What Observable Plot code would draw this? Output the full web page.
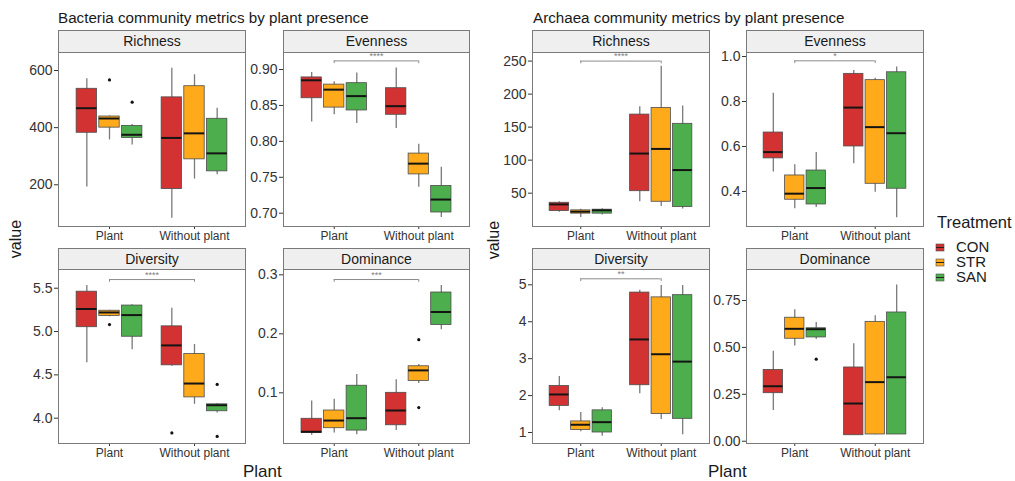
<!DOCTYPE html>
<html>
<head>
<meta charset="utf-8">
<script src="https://cdn.jsdelivr.net/npm/d3@7"></script>
<script src="https://cdn.jsdelivr.net/npm/@observablehq/plot@0.6"></script>
<style>
  body { margin: 0; background: #fff; font-family: "Liberation Sans", Arial, sans-serif; }
  #chart { position: relative; width: 1015px; height: 481px; overflow: hidden; background: #fff; }
  .abs { position: absolute; white-space: nowrap; color: #1a1a1a; }
  .title { font-size: 15.2px; line-height: 16px; }
  .strip { position: absolute; box-sizing: border-box; background: #efefef; border: 1px solid #7a7a7a;
           text-align: center; font-size: 14px; color: #1a1a1a; }
  .axis-title { font-size: 17px; line-height: 20px; }
  .ylab { font-size: 16px; line-height: 18px; transform: translate(-50%, -50%) rotate(-90deg); }
  .panel { position: absolute; }
</style>
</head>
<body>
<div id="chart"></div>
<script>
// Grouping variables
const groups = ["Plant", "Without plant"];
const treatments = ["CON", "STR", "SAN"];
const treatmentColors = ["#D33232", "#FFAA1B", "#4CAE4C"];

// Box summaries: [plant group, treatment, lower whisker, Q1, median, Q3, upper whisker]
const bacRichness = [
  ["Plant", "CON", 192, 382, 468, 536, 571],
  ["Plant", "STR", 357, 400, 432, 439, 441],
  ["Plant", "SAN", 339, 364, 375, 406, 411],
  ["Without plant", "CON", 83, 185, 364, 506, 608],
  ["Without plant", "STR", 220, 289, 380, 545, 585],
  ["Without plant", "SAN", 235, 247, 310, 431, 468]
];
const bacRichnessOutliers = [["Plant", "STR", 567], ["Plant", "SAN", 489]];

const bacEvenness = [
  ["Plant", "CON", 0.827, 0.860, 0.885, 0.889, 0.896],
  ["Plant", "STR", 0.837, 0.847, 0.872, 0.879, 0.883],
  ["Plant", "SAN", 0.825, 0.843, 0.863, 0.881, 0.895],
  ["Without plant", "CON", 0.818, 0.837, 0.849, 0.874, 0.902],
  ["Without plant", "STR", 0.736, 0.754, 0.769, 0.783, 0.796],
  ["Without plant", "SAN", 0.694, 0.701, 0.719, 0.738, 0.764]
];
const bacEvennessOutliers = [];
const bacEvennessSig = ["Plant", "Without plant", 0.912, "****"];

const bacDiversity = [
  ["Plant", "CON", 4.64, 5.05, 5.26, 5.46, 5.53],
  ["Plant", "STR", 5.17, 5.18, 5.22, 5.24, 5.245],
  ["Plant", "SAN", 4.79, 4.94, 5.19, 5.30, 5.31],
  ["Without plant", "CON", 4.60, 4.61, 4.84, 5.06, 5.27],
  ["Without plant", "STR", 4.16, 4.24, 4.40, 4.74, 4.85],
  ["Without plant", "SAN", 4.06, 4.08, 4.15, 4.16, 4.17]
];
const bacDiversityOutliers = [["Plant", "STR", 5.08], ["Without plant", "CON", 3.83], ["Without plant", "SAN", 4.39], ["Without plant", "SAN", 3.79]];
const bacDiversitySig = ["Plant", "Without plant", 5.60, "****"];

const bacDominance = [
  ["Plant", "CON", 0.028, 0.032, 0.034, 0.056, 0.086],
  ["Plant", "STR", 0.032, 0.040, 0.053, 0.070, 0.089],
  ["Plant", "SAN", 0.029, 0.036, 0.057, 0.112, 0.131],
  ["Without plant", "CON", 0.036, 0.045, 0.070, 0.100, 0.122],
  ["Without plant", "STR", 0.116, 0.120, 0.138, 0.145, 0.148],
  ["Without plant", "SAN", 0.207, 0.215, 0.237, 0.270, 0.282]
];
const bacDominanceOutliers = [["Without plant", "STR", 0.190], ["Without plant", "STR", 0.075]];
const bacDominanceSig = ["Plant", "Without plant", 0.292, "***"];

const arcRichness = [
  ["Plant", "CON", 21, 23, 33, 35.5, 37],
  ["Plant", "STR", 13, 19, 22, 24, 25.5],
  ["Plant", "SAN", 17, 19, 24, 25, 26.5],
  ["Without plant", "CON", 37, 53, 110, 169, 181],
  ["Without plant", "STR", 30, 37, 117, 179, 242],
  ["Without plant", "SAN", 26, 29, 85, 155, 182]
];
const arcRichnessOutliers = [];
const arcRichnessSig = ["Plant", "Without plant", 250, "****"];

const arcEvenness = [
  ["Plant", "CON", 0.486, 0.547, 0.575, 0.662, 0.837],
  ["Plant", "STR", 0.323, 0.363, 0.390, 0.471, 0.519],
  ["Plant", "SAN", 0.328, 0.342, 0.415, 0.493, 0.573],
  ["Without plant", "CON", 0.523, 0.600, 0.773, 0.923, 0.938],
  ["Without plant", "STR", 0.396, 0.434, 0.686, 0.895, 0.904],
  ["Without plant", "SAN", 0.283, 0.412, 0.659, 0.930, 0.953]
];
const arcEvennessOutliers = [];
const arcEvennessSig = ["Plant", "Without plant", 0.981, "*"];

const arcDiversity = [
  ["Plant", "CON", 1.59, 1.72, 2.03, 2.26, 2.52],
  ["Plant", "STR", 1.02, 1.07, 1.21, 1.30, 1.54],
  ["Plant", "SAN", 0.90, 1.00, 1.28, 1.60, 1.67],
  ["Without plant", "CON", 2.05, 2.28, 3.52, 4.79, 4.85],
  ["Without plant", "STR", 1.35, 1.50, 3.12, 4.66, 4.98],
  ["Without plant", "SAN", 0.94, 1.37, 2.92, 4.72, 4.98]
];
const arcDiversityOutliers = [];
const arcDiversitySig = ["Plant", "Without plant", 5.163, "**"];

const arcDominance = [
  ["Plant", "CON", 0.164, 0.256, 0.293, 0.380, 0.480],
  ["Plant", "STR", 0.508, 0.546, 0.599, 0.658, 0.700],
  ["Plant", "SAN", 0.542, 0.553, 0.597, 0.602, 0.633],
  ["Without plant", "CON", 0.032, 0.032, 0.201, 0.393, 0.519],
  ["Without plant", "STR", 0.035, 0.036, 0.315, 0.636, 0.668],
  ["Without plant", "SAN", 0.036, 0.036, 0.341, 0.686, 0.832]
];
const arcDominanceOutliers = [["Plant", "SAN", 0.437]];

// Axis tick values
const ticksBacRichness = [200, 400, 600];
const ticksBacEvenness = [0.70, 0.75, 0.80, 0.85, 0.90];
const ticksBacDiversity = [4.0, 4.5, 5.0, 5.5];
const ticksBacDominance = [0.1, 0.2, 0.3];
const ticksArcRichness = [50, 100, 150, 200, 250];
const ticksArcEvenness = [0.4, 0.6, 0.8, 1.0];
const ticksArcDiversity = [1, 2, 3, 4, 5];
const ticksArcDominance = [0, 0.25, 0.5, 0.75];

const FONT = '"Liberation Sans", Arial, sans-serif';
const chart = document.getElementById("chart");

// dodged position of a box within its plant group (position_dodge2-like)
const DODGE = 0.8 / 3;
const HALF = 0.12;
const pos = d => groups.indexOf(d.group) + 1 + (treatments.indexOf(d.treatment) - 1) * DODGE;

function addDiv(cls, text, css) {
  const el = document.createElement("div");
  el.className = cls;
  el.textContent = text;
  Object.assign(el.style, css);
  chart.appendChild(el);
  return el;
}

function panel({title, rows, outliers = [], sig = null, domain, ticks, format, left, right, stripTop, top, bottom}) {
  const ML = 44, MB = 22, MT = 1, MR = 1;
  const boxes = rows.map(([group, treatment, lo, q1, med, q3, hi]) => ({group, treatment, lo, q1, med, q3, hi}));
  const pts = outliers.map(([group, treatment, value]) => ({group, treatment, value}));

  // facet strip
  addDiv("strip", title, {
    left: left + "px", top: stripTop + "px",
    width: (right - left + 1) + "px", height: (top - stripTop + 1) + "px",
    lineHeight: (top - stripTop - 1) + "px"
  });

  const marks = [
    Plot.ruleX(boxes, {x: pos, y1: "lo", y2: "hi", stroke: "#7a7a7a", strokeWidth: 1.3}),
    Plot.rect(boxes, {x1: d => pos(d) - HALF, x2: d => pos(d) + HALF, y1: "q1", y2: "q3",
      fill: "treatment", stroke: "#4d4d4d", strokeWidth: 0.8}),
    Plot.ruleY(boxes, {y: "med", x1: d => pos(d) - HALF, x2: d => pos(d) + HALF, stroke: "#141414", strokeWidth: 2}),
    Plot.dot(pts, {x: pos, y: "value", r: 1.6, fill: "#111", stroke: null})
  ];

  if (sig) {
    const [ga, gb, yv, label] = sig;
    const xa = groups.indexOf(ga) + 1, xb = groups.indexOf(gb) + 1;
    const drop = 0.016 * (domain[1] - domain[0]);
    const b = [{xa, xb, y: yv, label}];
    marks.push(
      Plot.ruleY(b, {y: "y", x1: "xa", x2: "xb", stroke: "#8c8c8c", strokeWidth: 1}),
      Plot.ruleX(b, {x: "xa", y1: "y", y2: d => d.y - drop, stroke: "#8c8c8c", strokeWidth: 1}),
      Plot.ruleX(b, {x: "xb", y1: "y", y2: d => d.y - drop, stroke: "#8c8c8c", strokeWidth: 1}),
      Plot.text(b, {x: d => (d.xa + d.xb) / 2, y: "y", text: "label", dy: -2, lineAnchor: "bottom",
        fontSize: 9, fill: "#808080"})
    );
  }
  marks.push(Plot.frame({stroke: "#7a7a7a", strokeWidth: 1}));

  const svg = Plot.plot({
    width: right - left + ML + MR,
    height: bottom - top + MT + MB,
    marginLeft: ML, marginRight: MR, marginTop: MT, marginBottom: MB,
    style: {fontSize: "14px", fontFamily: FONT, color: "#333", background: "transparent", overflow: "visible"},
    x: {domain: [0.4, 2.6], ticks: [1, 2], tickFormat: i => groups[i - 1], tickSize: 3, tickPadding: 2, label: null},
    y: {domain, ticks, tickFormat: format, tickSize: 4, tickPadding: 2, label: null},
    color: {domain: treatments, range: treatmentColors},
    marks
  });
  svg.querySelectorAll('g[aria-label^="x-axis"] text').forEach(t => {
    t.style.fontSize = "12px";
    t.style.fill = "#333";
  });
  svg.classList.add("panel");
  svg.style.position = "absolute";
  svg.style.left = (left - ML) + "px";
  svg.style.top = (top - MT) + "px";
  chart.appendChild(svg);
}

// Section titles and axis titles
addDiv("abs title", "Bacteria community metrics by plant presence", {left: "58px", top: "10px"});
addDiv("abs title", "Archaea community metrics by plant presence", {left: "533px", top: "10px"});
addDiv("abs ylab", "value", {left: "16px", top: "239px"});
addDiv("abs ylab", "value", {left: "494px", top: "240px"});
addDiv("abs axis-title", "Plant", {left: "243px", top: "462px"});
addDiv("abs axis-title", "Plant", {left: "708px", top: "462px"});

const f0 = d3.format("d"), f1 = d3.format(".1f"), f2 = d3.format(".2f");

// Bacteria panels
panel({title: "Richness", rows: bacRichness, outliers: bacRichnessOutliers,
  domain: [54, 663], ticks: ticksBacRichness, format: f0,
  left: 58, right: 245, stripTop: 30, top: 52, bottom: 226});
panel({title: "Evenness", rows: bacEvenness, outliers: bacEvennessOutliers, sig: bacEvennessSig,
  domain: [0.6815, 0.9237], ticks: ticksBacEvenness, format: f2,
  left: 283, right: 469, stripTop: 30, top: 52, bottom: 226});
panel({title: "Diversity", rows: bacDiversity, outliers: bacDiversityOutliers, sig: bacDiversitySig,
  domain: [3.708, 5.716], ticks: ticksBacDiversity, format: f1,
  left: 58, right: 245, stripTop: 248, top: 269, bottom: 443});
panel({title: "Dominance", rows: bacDominance, outliers: bacDominanceOutliers, sig: bacDominanceSig,
  domain: [0.0141, 0.309], ticks: ticksBacDominance, format: f1,
  left: 283, right: 469, stripTop: 248, top: 269, bottom: 443});

// Archaea panels
panel({title: "Richness", rows: arcRichness, outliers: arcRichnessOutliers, sig: arcRichnessSig,
  domain: [-0.45, 263], ticks: ticksArcRichness, format: f0,
  left: 532, right: 709, stripTop: 30, top: 52, bottom: 226});
panel({title: "Evenness", rows: arcEvenness, outliers: arcEvennessOutliers, sig: arcEvennessSig,
  domain: [0.244, 1.018], ticks: ticksArcEvenness, format: f1,
  left: 746, right: 923, stripTop: 30, top: 52, bottom: 226});
panel({title: "Diversity", rows: arcDiversity, outliers: arcDiversityOutliers, sig: arcDiversitySig,
  domain: [0.702, 5.415], ticks: ticksArcDiversity, format: f0,
  left: 532, right: 709, stripTop: 248, top: 269, bottom: 443});
panel({title: "Dominance", rows: arcDominance, outliers: arcDominanceOutliers,
  domain: [-0.012, 0.915], ticks: ticksArcDominance, format: f2,
  left: 746, right: 923, stripTop: 248, top: 269, bottom: 443});

// Treatment legend
addDiv("abs", "Treatment", {left: "937px", top: "212px", fontSize: "16.5px", lineHeight: "20px"});
const legend = Plot.legend({
  color: {domain: treatments, range: treatmentColors},
  legend: "swatches", columns: 1, swatchWidth: 8, swatchHeight: 7,
  style: {fontSize: "15px", fontFamily: FONT, color: "#1a1a1a", lineHeight: "14px", margin: "0"}
});
legend.style.position = "absolute";
legend.style.left = "936px";
legend.style.top = "240px";
legend.style.width = "79px";
legend.style.overflow = "visible";
// boxplot-style keys: outlined swatch with a median stroke
legend.querySelectorAll("svg").forEach(s => {
  s.style.marginRight = "12px";
  s.style.overflow = "visible";
  const r = s.querySelector("rect");
  if (r) { r.setAttribute("stroke", "#4d4d4d"); r.setAttribute("stroke-width", "0.6"); }
  const ln = document.createElementNS("http://www.w3.org/2000/svg", "line");
  ln.setAttribute("x1", "0"); ln.setAttribute("x2", "8");
  ln.setAttribute("y1", "3.5"); ln.setAttribute("y2", "3.5");
  ln.setAttribute("stroke", "#222"); ln.setAttribute("stroke-width", "1");
  s.appendChild(ln);
});
legend.querySelectorAll("div, span").forEach(e => { e.style.overflow = "visible"; e.style.maxWidth = "none"; });
chart.appendChild(legend);
</script>
</body>
</html>
